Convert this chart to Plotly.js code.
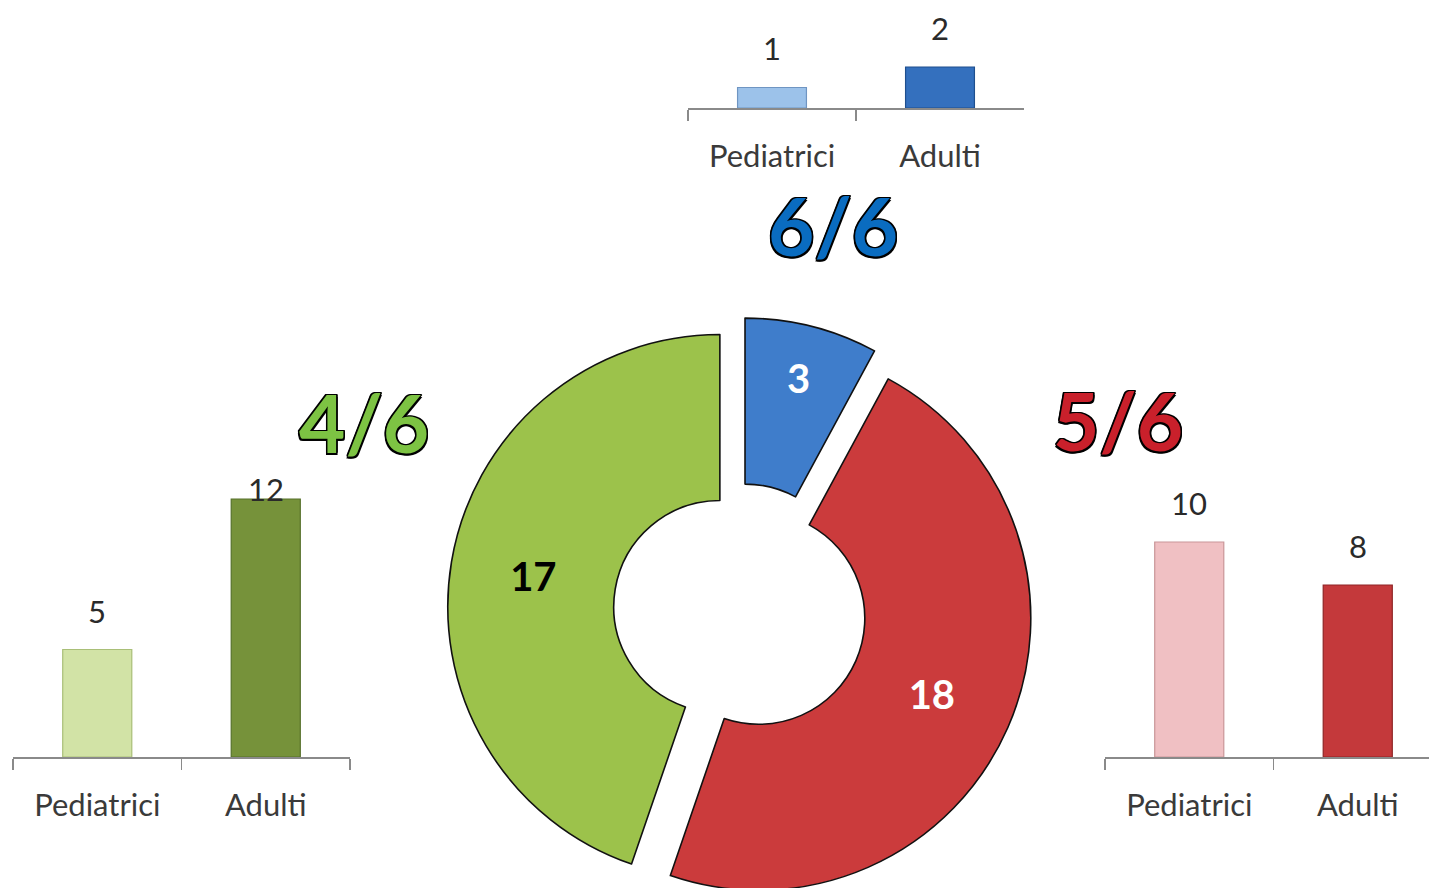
<!DOCTYPE html>
<html>
<head>
<meta charset="utf-8">
<script src="https://cdn.plot.ly/plotly-3.0.1.min.js"></script>
<style>
  html, body { margin: 0; padding: 0; overflow: hidden; background: #fff; }
  #chart { width: 1450px; height: 910px; }
</style>
</head>
<body>
<div id="chart"></div>
<script>
// ---- data ----
const categories = ['Pediatrici', 'Adulti'];
const blueValues = [1, 2];
const greenValues = [5, 12];
const redValues = [10, 8];
const donutValues = [3, 18, 17];
const donutLabels = ['6/6', '5/6', '4/6'];

// ---- layout helpers (pixel -> paper) ----
const W = 1450, H = 910;
const px = v => v / W;
const py = v => 1 - v / H;

const FONT = 'Lato, "Open Sans", sans-serif';
const TICKFONT = { family: FONT, size: 31, color: '#3a3a3a' };
const LABELFONT = { family: FONT, size: 31, color: '#2a2a2a' };

// chart geometry
const charts = [
  { name: 'blue',  values: blueValues,  xa: 'x',  ya: 'y',  xDom: [688, 1024],  axisPx: 108, ppu: 20.5, yMax: 5,
    colors: ['#9CC2EA', '#3470BE'], lines: ['#6f95c2', '#1f4f8e'], ceil: Infinity },
  { name: 'green', values: greenValues, xa: 'x2', ya: 'y2', xDom: [13, 350],    axisPx: 757, ppu: 21.5, yMax: 14,
    colors: ['#D2E3A6', '#76923A'], lines: ['#a9bf78', '#56702a'], ceil: 11.5 },
  { name: 'red',   values: redValues,   xa: 'x3', ya: 'y3', xDom: [1105, 1442], axisPx: 757, ppu: 21.5, yMax: 14,
    colors: ['#F0C0C3', '#C4393B'], lines: ['#c99699', '#8f2426'], ceil: Infinity }
];

const traces = [];
const layout = {
  width: W, height: H,
  margin: { l: 0, r: 0, t: 0, b: 0 },
  paper_bgcolor: '#ffffff', plot_bgcolor: 'rgba(0,0,0,0)',
  showlegend: false,
  font: { family: FONT },
  annotations: []
};

charts.forEach((c, k) => {
  traces.push({
    type: 'bar',
    x: categories,
    y: c.values,
    xaxis: c.xa, yaxis: c.ya,
    width: 0.41,
    marker: { color: c.colors, line: { color: c.lines, width: 1.2 } },
    hoverinfo: 'none'
  });
  const xKey = 'xaxis' + (k === 0 ? '' : (k + 1));
  const yKey = 'yaxis' + (k === 0 ? '' : (k + 1));
  layout[xKey] = {
    domain: [px(c.xDom[0]), px(c.xDom[1])],
    anchor: c.ya,
    type: 'category',
    showline: true, linecolor: '#8a8a8a', linewidth: 1.5,
    ticks: 'outside', tickson: 'boundaries', ticklen: 11, tickcolor: '#8a8a8a', tickwidth: 1.5,
    tickfont: TICKFONT,
    ticklabelstandoff: 20,
    showgrid: false, zeroline: false, fixedrange: true
  };
  layout[yKey] = {
    domain: [py(c.axisPx), py(c.axisPx - c.ppu * c.yMax)],
    anchor: c.xa,
    range: [0, c.yMax],
    visible: false, fixedrange: true
  };
  c.values.forEach((v, i) => {
    const shift = Math.min(18, (c.ceil - v) * c.ppu);
    layout.annotations.push({
      xref: c.xa, yref: c.ya, x: categories[i], y: v,
      text: String(v), showarrow: false, yanchor: 'bottom', yshift: shift,
      font: LABELFONT
    });
  });
});

// donut
traces.push({
  type: 'pie',
  values: donutValues,
  labels: donutLabels,
  sort: false,
  direction: 'clockwise',
  rotation: 0,
  hole: 0.39,
  pull: [0.075, 0.075, 0.075],
  domain: { x: [px(447.5), px(1032.5)], y: [py(902.5), py(317.5)] },
  marker: { colors: ['#3F7DCB', '#CB3B3C', '#9CC24B'], line: { color: '#111111', width: 1.6 } },
  textinfo: 'value',
  textposition: 'inside',
  insidetextorientation: 'horizontal',
  textfont: { family: FONT, size: 40, weight: 700, color: ['#ffffff', '#ffffff', '#000000'] },
  hoverinfo: 'none'
});

// big fraction labels (one per donut slice)
const outline = '1.5px 1.5px 0 #000, -1.5px -1.5px 0 #000, 1.5px -1.5px 0 #000, -1.5px 1.5px 0 #000, 0 1.5px 0 #000, 0 -1.5px 0 #000, 1.5px 0 0 #000, -1.5px 0 0 #000';
const bigColors = ['#0A6CC0', '#C9202B', '#7DC343'];
const bigPos = [[833, 225], [1118, 420], [364, 422]];
donutLabels.forEach((t, i) => {
  layout.annotations.push({
    xref: 'paper', yref: 'paper', x: px(bigPos[i][0]), y: py(bigPos[i][1]),
    xanchor: 'center', yanchor: 'middle',
    text: t, showarrow: false,
    font: { family: FONT, size: 80, weight: 700, color: bigColors[i], shadow: outline }
  });
});

Plotly.newPlot('chart', traces, layout, { displayModeBar: false, staticPlot: true });
</script>
</body>
</html>
